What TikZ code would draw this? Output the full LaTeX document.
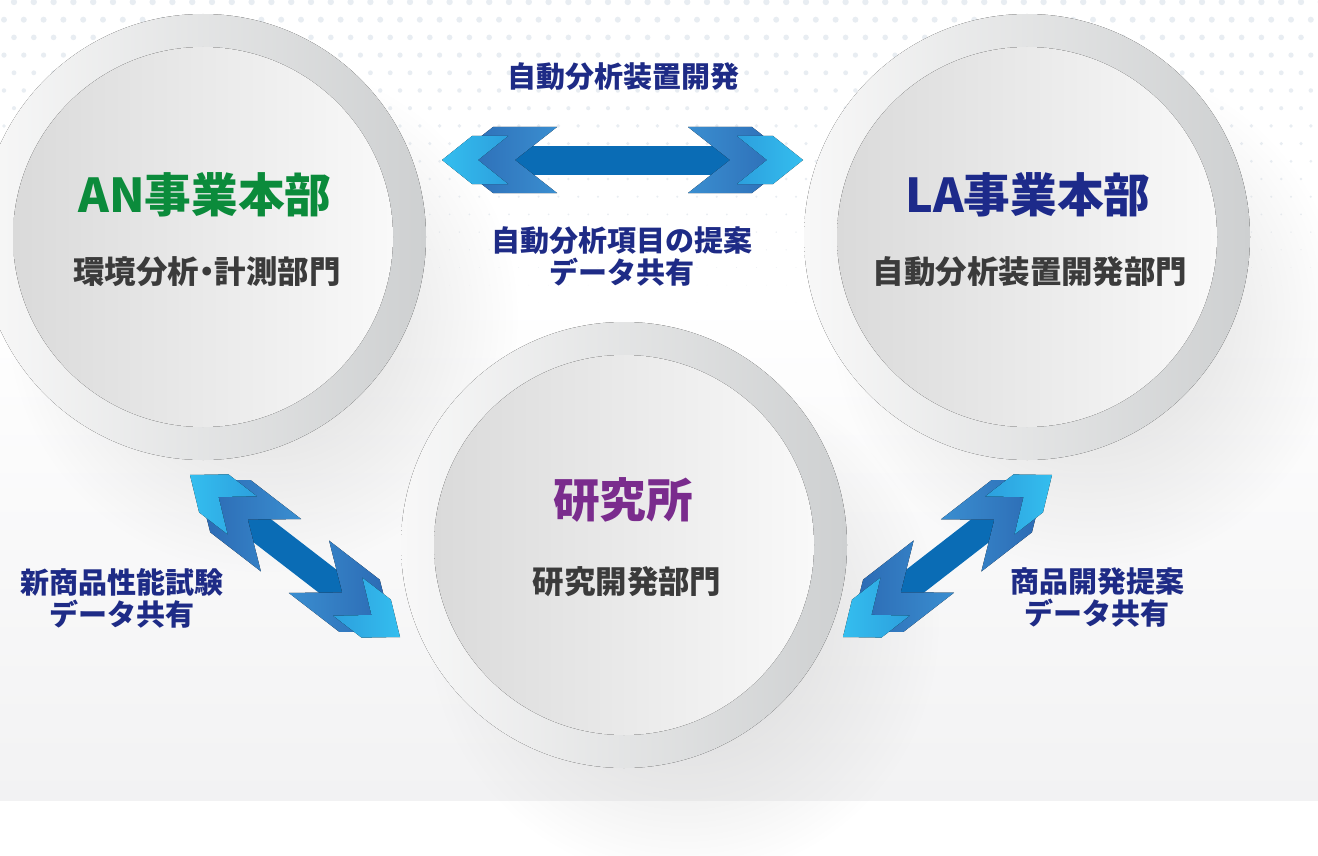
\documentclass[tikz,border=0pt]{standalone}
\usepackage{fontspec}
\setmainfont{Noto Sans CJK JP}
\usetikzlibrary{calc,fadings}

\definecolor{dotgrey}{HTML}{E8EDF2}
\definecolor{bandgrey}{HTML}{F2F2F3}
\definecolor{ringlight}{HTML}{F8F8F8}
\definecolor{ringmid}{HTML}{E6E7E7}
\definecolor{ringdark}{HTML}{CED0D1}
\definecolor{disclight}{HTML}{F9F9F9}
\definecolor{discmid}{HTML}{EEEEEE}
\definecolor{discdark}{HTML}{DADADA}
\definecolor{shaftblue}{HTML}{0A6CB5}
\definecolor{chevdeep}{HTML}{2B68B2}
\definecolor{chevmid}{HTML}{3A8ED0}
\definecolor{chevsky}{HTML}{34BEEF}
\definecolor{chevcyan}{HTML}{2C9FDD}
\definecolor{labelnavy}{HTML}{1E2B86}
\definecolor{angreen}{HTML}{0B8B3B}
\definecolor{lanavy}{HTML}{1D2A8A}
\definecolor{labpurple}{HTML}{7A2C8D}
\definecolor{deptgrey}{HTML}{3B3B3B}

\tikzfading[name=softshadow, inner color=transparent!15, outer color=transparent!100]

\tikzset{
	ring/.style={left color=ringlight, middle color=ringmid, right color=ringdark},
	disc/.style={left color=discdark, middle color=discmid, right color=disclight},
	dropshadow/.style={fill=black!18, path fading=softshadow},
	title/.style={font=\bfseries\fontsize{35pt}{40pt}\selectfont},
	dept/.style={font=\bfseries\fontsize{23.6pt}{28pt}\selectfont, text=deptgrey},
	flow/.style={font=\bfseries\fontsize{21.75pt}{24pt}\selectfont, text=labelnavy, align=center},
	darkL/.style={left color=chevdeep, right color=chevmid},
	darkR/.style={left color=chevmid, right color=chevdeep},
	skyL/.style={left color=chevsky, right color=chevcyan},
	skyR/.style={left color=chevcyan, right color=chevsky}}
\tikzset{every picture/.style={line width=0.75pt}}

% chevron: tip, toward, style, start, rise, thickness, half height (pt)
\newcommand\chevron[7]{%
	\pgfmathsetmacro\chA{#4}%
	\pgfmathsetmacro\chB{#4+#5}%
	\pgfmathsetmacro\chC{#4+#5+#6}%
	\pgfmathsetmacro\chD{#4+#6}%
	\fill[#3] ($(#1)!\chA pt!(#2)$)
		-- ($(#1)!\chB pt!(#2)!#7pt!90:(#2)$)
		-- ($(#1)!\chC pt!(#2)!#7pt!90:(#2)$)
		-- ($(#1)!\chD pt!(#2)$)
		-- ($(#1)!\chC pt!(#2)!#7pt!-90:(#2)$)
		-- ($(#1)!\chB pt!(#2)!#7pt!-90:(#2)$) -- cycle;}

% double arrow between two named coordinates (left end first)
\newcommand\twoway[2]{%
	\draw[shaftblue, line width=21.75pt] ($(#1)!45pt!(#2)$) -- ($(#2)!45pt!(#1)$);
	\chevron{#1}{#2}{darkL}{6.75}{31.5}{48}{24.75}
	\chevron{#2}{#1}{darkR}{6.75}{31.5}{48}{24.75}
	\chevron{#1}{#2}{skyL}{0}{22.5}{27}{18}
	\chevron{#2}{#1}{skyR}{0}{22.5}{27}{18}}

\begin{document}
\begin{tikzpicture}[x=0.75pt,y=0.75pt,yscale=-1,xscale=1]
	\useasboundingbox (0,0) rectangle (1318,856);
	\clip (0,0) rectangle (1318,856);
	\fill[white] (0,0) rectangle (1318,856);

	%Shape: floor band
	\fill[top color=white, bottom color=bandgrey] (0,300) rectangle (1318,800);

	%Shape: dot grid
	\foreach \row in {0,...,17}{
		\pgfmathsetmacro\doty{2+17.7*\row}
		\pgfmathsetmacro\dotr{3.2-0.0105*\doty}
		\pgfmathsetmacro\dotx{mod(\row,2)==0 ? 14 : 4}
		\foreach \col in {0,...,66}
			\fill[dotgrey] ({\dotx+19.8*\col},\doty) circle (\dotr);
	}

	\coordinate (an) at (203,237);
	\coordinate (la) at (1027,237);
	\coordinate (lab) at (624,545);

	%Shape: shadows
	\foreach \c in {an,la,lab}
		\fill[dropshadow] ($(\c)+(60,80)$) circle (255);

	%Shape: buttons
	\foreach \c in {an,la,lab}{
		\fill[ring] (\c) circle (223);
		\fill[disc] (\c) circle (190);
	}

	%Shape: arrows
	\coordinate (topL) at (442,160);
	\coordinate (topR) at (803,160);
	\coordinate (leftU) at (190,475);
	\coordinate (leftD) at (400,637);
	\coordinate (rightD) at (843,637);
	\coordinate (rightU) at (1052,475);
	\twoway{topL}{topR}
	\twoway{leftU}{leftD}
	\twoway{rightD}{rightU}

	% Text Node
	\node[flow] (topflow) at (623,77) {自動分析装置開発};
	% Text Node
	\node[flow] (midflow) at (622,256) {自動分析項目の提案\\データ共有};
	% Text Node
	\node[title, text=angreen] (anTitle) at (205,195) {AN事業本部};
	% Text Node
	\node[dept] (anDept) at (207,272) {環境分析\makebox[0.5em]{・}計測部門};
	% Text Node
	\node[title, text=lanavy] (laTitle) at (1028,195) {LA事業本部};
	% Text Node
	\node[dept] (laDept) at (1030,272) {自動分析装置開発部門};
	% Text Node
	\node[title, text=labpurple] (labTitle) at (623,500) {研究所};
	% Text Node
	\node[dept] (labDept) at (627,582) {研究開発部門};
	% Text Node
	\node[flow] (leftflow) at (122,598) {新商品性能試験\\データ共有};
	% Text Node
	\node[flow] (rightflow) at (1097,598) {商品開発提案\\データ共有};

\end{tikzpicture}
\end{document}
